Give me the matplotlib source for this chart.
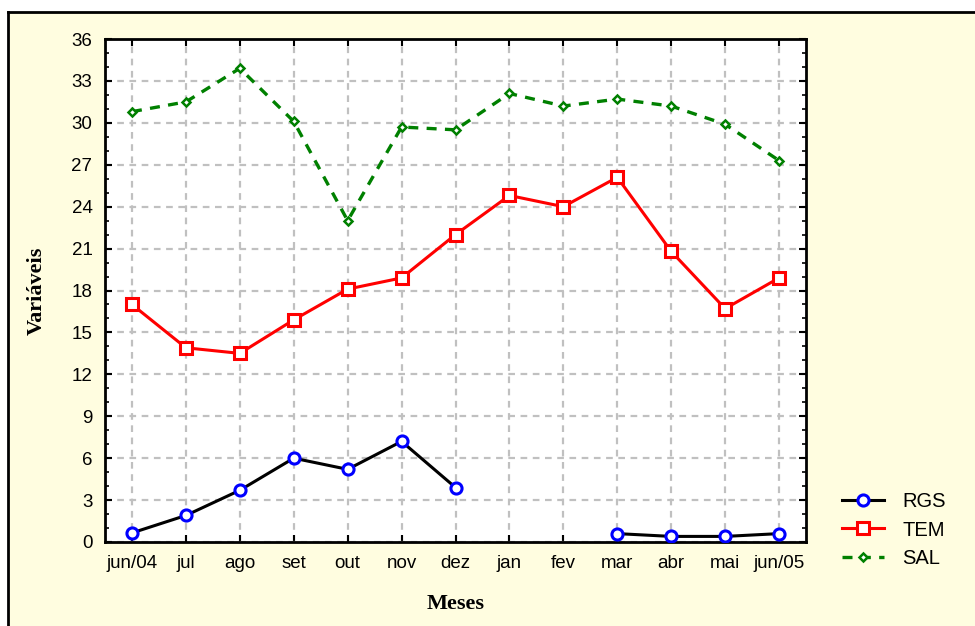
import numpy as np
import matplotlib
matplotlib.use("Agg")
import matplotlib.pyplot as plt
from matplotlib.patches import Rectangle
from matplotlib.ticker import MultipleLocator

months = ["jun/04", "jul", "ago", "set", "out", "nov", "dez", "jan", "fev", "mar", "abr", "mai", "jun/05"]
rgs = [0.65, 1.9, 3.7, 6.0, 5.2, 7.2, 3.9, np.nan, np.nan, 0.6, 0.4, 0.4, 0.6]
tem = [17.0, 13.9, 13.5, 15.9, 18.1, 18.9, 22.0, 24.8, 24.0, 26.1, 20.8, 16.7, 18.9]
sal = [30.8, 31.5, 33.9, 30.1, 23.0, 29.7, 29.5, 32.1, 31.2, 31.7, 31.2, 29.9, 27.3]
yticks = [0, 3, 6, 9, 12, 15, 18, 21, 24, 27, 30, 33, 36]

W, H = 975, 626
fig = plt.figure(figsize=(W / 100, H / 100), dpi=100)
fig.patch.set_facecolor("white")

# yellow panel with black left/top border
bg = Rectangle((8 / W, 0), 1, 1 - 12 / H, transform=fig.transFigure,
               facecolor="#FFFDE0", edgecolor="none", zorder=-10)
fig.patches.append(bg)
fig.add_artist(plt.Line2D([8 / W, 8 / W], [0, 1 - 12 / H], transform=fig.transFigure,
                          color="black", lw=2))
fig.add_artist(plt.Line2D([8 / W, 1], [1 - 12 / H, 1 - 12 / H], transform=fig.transFigure,
                          color="black", lw=2))

ax = fig.add_axes([105 / W, (H - 542) / H, (806 - 105) / W, (542 - 39) / H])
ax.set_facecolor("white")
x = np.arange(len(months))

ax.plot(x, rgs, color="black", lw=2.2, marker="o", ms=8, mfc="white", mec="blue",
        mew=2.2, label="RGS", zorder=3)
ax.plot(x, tem, color="red", lw=2.2, marker="s", ms=8.5, mfc="white", mec="red",
        mew=2.2, label="TEM", zorder=3)
ax.plot(x, sal, color="green", lw=2.4, ls=(0, (3, 2.5)), marker="D", ms=4.5, mfc="white",
        mec="green", mew=1.8, label="SAL", zorder=3)

ax.set_xlim(-0.5, len(months) - 0.5)
ax.set_ylim(0, 36)
ax.set_xticks(x)
ax.set_xticklabels(months)
ax.set_yticks(yticks)
ax.yaxis.set_minor_locator(MultipleLocator(1))

for lab in ax.get_xticklabels() + ax.get_yticklabels():
    lab.set_fontfamily("Liberation Sans")
    lab.set_fontsize(13.5)

ax.tick_params(axis="both", which="major", direction="in", length=5, width=1.5,
               top=True, right=True)
ax.tick_params(axis="x", which="major", pad=9)
ax.tick_params(axis="y", which="major", pad=9)
ax.tick_params(axis="y", which="minor", direction="in", length=3, width=1.2,
               left=True, right=True)
ax.tick_params(axis="x", which="minor", bottom=False, top=False)
for s in ax.spines.values():
    s.set_linewidth(2)

ax.grid(True, which="major", color="#C0C0C0", ls=(0, (3, 2.5)), lw=1.6)
ax.set_axisbelow(True)

ax.set_xlabel("Meses", fontfamily="Liberation Serif", fontweight="bold", fontsize=16, labelpad=16)
ax.set_ylabel("Variáveis", fontfamily="Liberation Serif", fontweight="bold", fontsize=16, labelpad=18)

leg = ax.legend(loc="center left", bbox_to_anchor=(824 / W, (H - 530) / H),
                bbox_transform=fig.transFigure, frameon=False,
                prop={"family": "Liberation Sans", "size": 14.5},
                handlelength=2.1, handletextpad=0.9, labelspacing=0.45)

fig.savefig("out.png", dpi=100)
